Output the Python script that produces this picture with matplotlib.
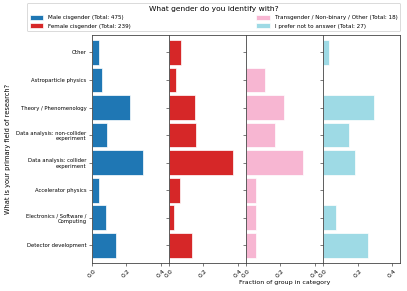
import matplotlib
matplotlib.use("Agg")
import matplotlib.pyplot as plt
import numpy as np

# categories from bottom to top
categories = ['Detector development', 'Electronics / Software /\nComputing',
              'Accelerator physics', 'Data analysis: collider\nexperiment',
              'Data analysis: non-collider\nexperiment', 'Theory / Phenomenology',
              'Astroparticle physics', 'Other']

groups = ['Male cisgender (Total: 475)', 'Female cisgender (Total: 239)',
          'Transgender / Non-binary / Other (Total: 18)', 'I prefer not to answer (Total: 27)']

# fraction of each group in each category (same order as categories)
male = [0.143, 0.086, 0.044, 0.297, 0.089, 0.223, 0.062, 0.044]
female = [0.134, 0.031, 0.066, 0.370, 0.157, 0.154, 0.041, 0.070]
trans = [0.056, 0.056, 0.056, 0.333, 0.167, 0.222, 0.111, 0.0]
noanswer = [0.259, 0.074, 0.0, 0.185, 0.148, 0.296, 0.0, 0.037]

colors = ['#1f77b4', '#d62728', '#f7b6d2', '#9edae5']
xticks = [0.0, 0.2, 0.4]

fig, axes = plt.subplots(1, 4, figsize=(4.07, 2.91), dpi=100, sharey=True)
fig.subplots_adjust(left=0.225, right=0.983, bottom=0.096, top=0.881, wspace=0)

y = np.arange(len(categories))
handles = []
for ax, vals, col, lab in zip(axes, [male, female, trans, noanswer], colors, groups):
    h = ax.barh(y, vals, height=0.9, color=col, edgecolor='white', linewidth=0.5, label=lab)
    handles.append(h)
    ax.set_xlim(0, 0.446)
    ax.set_ylim(-0.645, 7.645)
    ax.set_xticks(xticks)
    ax.set_xticklabels(['0.0', '0.2', '0.4'], rotation=45, fontsize=4.4)
    ax.tick_params(length=2, width=0.5, color='#444444', pad=1.5)
    for s in ax.spines.values():
        s.set_linewidth(0.6)
        s.set_color('#444444')

axes[0].set_yticks(y)
axes[0].set_yticklabels(categories, fontsize=3.8)
axes[0].set_ylabel('What is your primary field of research?', fontsize=4.8)
axes[2].set_xlabel('Fraction of group in category', fontsize=4.5, labelpad=1)

leg = fig.legend(handles=handles, labels=groups,
                 ncol=2, mode='expand', loc='upper left',
                 bbox_to_anchor=(27 / 407, 1 - 3 / 291, 373 / 407, 0),
                 fontsize=4.1, title='What gender do you identify with?',
                 title_fontsize=5.4, borderaxespad=0, handlelength=2.4,
                 handleheight=1.0, labelspacing=0.55, borderpad=0.45, framealpha=1)
leg.get_frame().set_linewidth(0.5)

fig.savefig('out.png', dpi=100)
